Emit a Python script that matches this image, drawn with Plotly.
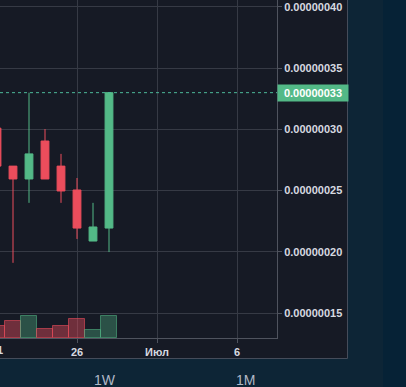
import plotly.graph_objects as go

# ---- data ----
dates = ["2019-06-21", "2019-06-22", "2019-06-23", "2019-06-24",
         "2019-06-25", "2019-06-26", "2019-06-27", "2019-06-28"]
open_ = [3.01e-7, 2.70e-7, 2.595e-7, 2.905e-7, 2.70e-7, 2.505e-7, 2.088e-7, 2.194e-7]
high = [3.08e-7, 2.70e-7, 3.30e-7, 3.003e-7, 2.80e-7, 2.603e-7, 2.40e-7, 3.30e-7]
low = [2.66e-7, 1.91e-7, 2.40e-7, 2.595e-7, 2.40e-7, 2.105e-7, 2.088e-7, 1.998e-7]
close = [2.70e-7, 2.595e-7, 2.80e-7, 2.595e-7, 2.497e-7, 2.194e-7, 2.203e-7, 3.30e-7]
volume = [1.23, 1.73, 2.20, 0.90, 1.23, 1.90, 0.80, 2.20]

last_price = 3.3e-7
last_label = "0.00000033"

y_ticks = [1.5e-7, 2.0e-7, 2.5e-7, 3.0e-7, 3.5e-7, 4.0e-7]
y_ticktext = ["0.00000015", "0.00000020", "0.00000025", "0.00000030",
              "0.00000035", "0.00000040"]
x_ticks = ["2019-06-26", "2019-07-01", "2019-07-06"]
x_ticktext = ["26", "Июл", "6"]
interval_labels = ["1W", "1M"]

UP = "#53b987"
DOWN = "#eb4d5c"
BG = "#161a25"
GRID = "#363a45"
AXIS = "#4f535e"
TXT = "#d6d9e0"
FONT = "Liberation Sans, Arial, sans-serif"

W, H = 406, 387
PL, PR, PT, PB = 0, 277, 0, 338  # plot area in px

def px(x):
    return (x - PL) / (PR - PL)

def py(y):
    return 1 - (y - PT) / (PB - PT)

vol_colors = ["rgba(83,185,135,0.35)" if c >= o else "rgba(235,77,92,0.42)"
              for o, c in zip(open_, close)]
vol_lines = ["rgba(83,185,135,0.55)" if c >= o else "rgba(235,77,92,0.6)"
             for o, c in zip(open_, close)]

fig = go.Figure()
fig.add_trace(go.Bar(
    x=dates, y=volume, yaxis="y2", width=86400000,
    marker=dict(color=vol_colors, line=dict(color=vol_lines, width=1)),
    hoverinfo="skip", showlegend=False,
))
fig.add_trace(go.Candlestick(
    x=dates, open=open_, high=high, low=low, close=close,
    increasing=dict(line=dict(color=UP, width=1), fillcolor=UP),
    decreasing=dict(line=dict(color=DOWN, width=1), fillcolor=DOWN),
    showlegend=False,
))

shapes = [
    dict(type="rect", xref="paper", yref="paper", x0=px(383), x1=1.6,
         y0=-0.3, y1=1.2, fillcolor="#062236", line=dict(width=0), layer="below"),
    dict(type="rect", xref="paper", yref="paper", x0=-0.05, x1=px(347.5),
         y0=py(358.5), y1=1.05, fillcolor=BG, line=dict(color="#454c5a", width=1),
         layer="below"),
    dict(type="line", xref="paper", yref="y", x0=0, x1=1, y0=last_price, y1=last_price,
         line=dict(color="#4cb89a", width=1, dash="dot")),
]

annotations = [
    dict(x=1, xref="paper", y=last_price, yref="y", xanchor="left", yanchor="middle",
         text="<b>" + last_label + "</b>", showarrow=False, bgcolor=UP, width=70, height=16,
         borderpad=0, font=dict(family=FONT, size=11, color="#ffffff")),
    dict(x=px(-3), xref="paper", y=py(350), yref="paper", xanchor="center",
         yanchor="middle", text="<b>21</b>", showarrow=False,
         font=dict(family=FONT, size=11, color=TXT)),
    dict(x=px(105), xref="paper", y=py(380), yref="paper", xanchor="center",
         yanchor="middle", text=interval_labels[0], showarrow=False,
         font=dict(family=FONT, size=14, color="#b0b8c6")),
    dict(x=px(245), xref="paper", y=py(380), yref="paper", xanchor="center",
         yanchor="middle", text=interval_labels[1], showarrow=False,
         font=dict(family=FONT, size=14, color="#b0b8c6")),
]

fig.update_layout(
    width=W, height=H, autosize=False,
    margin=dict(l=PL, r=W - PR, t=PT, b=H - PB, pad=0),
    paper_bgcolor="#0d2536", plot_bgcolor=BG,
    font=dict(family=FONT, size=11, color=TXT),
    bargap=0,
    shapes=shapes, annotations=annotations,
    xaxis=dict(
        type="date", range=["2019-06-21 04:30", "2019-07-08 12:00"],
        rangeslider=dict(visible=False),
        tickvals=x_ticks, ticktext=["<b>%s</b>" % t for t in x_ticktext],
        showgrid=True, gridcolor=GRID, gridwidth=1,
        showline=True, linecolor=AXIS, linewidth=1,
        ticks="outside", ticklen=4, tickcolor=AXIS,
        tickfont=dict(family=FONT, size=11, color=TXT),
        zeroline=False, fixedrange=True,
    ),
    yaxis=dict(
        side="right", range=[1.296e-7, 4.057e-7],
        tickvals=y_ticks, ticktext=["<b>%s</b>" % t for t in y_ticktext],
        showgrid=True, gridcolor=GRID, gridwidth=1,
        showline=True, linecolor=AXIS, linewidth=1,
        ticks="outside", ticklen=4, tickcolor=AXIS,
        tickfont=dict(family=FONT, size=11, color=TXT),
        zeroline=False, fixedrange=True,
    ),
    yaxis2=dict(overlaying="y", range=[0, 33.8], visible=False, fixedrange=True),
)

fig.write_html("out.html")
